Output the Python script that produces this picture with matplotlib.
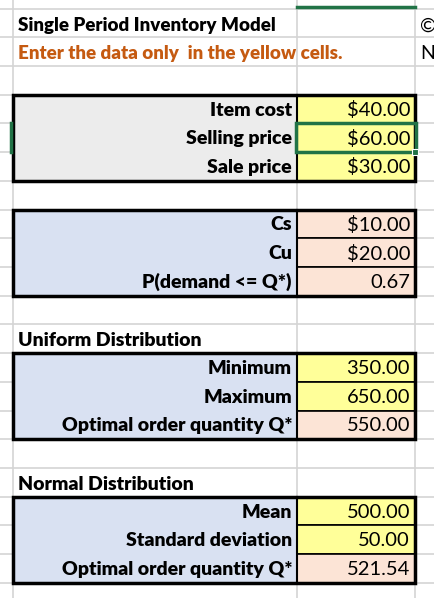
import matplotlib.pyplot as plt
from matplotlib.patches import Rectangle

plt.rcParams['font.family'] = ['Lato', 'DejaVu Sans']

title = "Single Period Inventory Model"
note = "Enter the data only  in the yellow cells."

cost_labels = ["Item cost", "Selling price", "Sale price"]
cost_values = ["$40.00", "$60.00", "$30.00"]
cost_kinds = ["in", "in", "in"]

marg_labels = ["Cs", "Cu", "P(demand <= Q*)"]
marg_values = ["$10.00", "$20.00", "0.67"]
marg_kinds = ["out", "out", "out"]

unif_title = "Uniform Distribution"
unif_labels = ["Minimum", "Maximum", "Optimal order quantity Q*"]
unif_values = ["350.00", "650.00", "550.00"]
unif_kinds = ["in", "in", "out"]

norm_title = "Normal Distribution"
norm_labels = ["Mean", "Standard deviation", "Optimal order quantity Q*"]
norm_values = ["500.00", "50.00", "521.54"]
norm_kinds = ["in", "in", "out"]

W, H = 434, 598
fig = plt.figure(figsize=(W / 100, H / 100), dpi=100)
ax = fig.add_axes([0, 0, 1, 1])
ax.set_xlim(0, W)
ax.set_ylim(H, 0)
ax.axis('off')

rh = 28.72
top0 = 8.5
def rt(i):
    return top0 + i * rh

XL, XM, XR = 13, 297, 415
grid = '#d4d4d4'
fill = {"in": '#ffff99', "out": '#fce4d6'}

# gridlines
for i in range(-1, 21):
    ax.plot([0, W], [rt(i), rt(i)], color=grid, lw=1.2, zorder=1)
for x in [XL, XM, XR]:
    ax.plot([x, x], [0, H], color=grid, lw=1.2, zorder=1)

fs = 14
ax.text(XL + 5, rt(0) + rh / 2 + 3, title, fontsize=fs - 0.5, fontweight='heavy', va='center', zorder=5)
ax.text(XL + 5, rt(1) + rh / 2 + 2, note, fontsize=fs - 0.5, fontweight='heavy', color='#c55a11', va='center', zorder=5)
ax.text(XR + 5, rt(0) + rh / 2 + 3, "©", fontsize=fs, va='center', zorder=5)
ax.text(XR + 5, rt(1) + rh / 2 + 2, "N", fontsize=fs, va='center', zorder=5)

def block(r0, labels, values, kinds, bg, head=None):
    if head:
        ax.text(XL + 5, rt(r0 - 1) + rh / 2 + 2, head, fontsize=fs, fontweight='heavy', va='center', zorder=5)
    n = len(labels)
    ax.add_patch(Rectangle((XL, rt(r0)), XM - XL, n * rh, facecolor=bg, edgecolor='none', zorder=2))
    for j, (lab, val, k) in enumerate(zip(labels, values, kinds)):
        y = rt(r0 + j)
        ax.add_patch(Rectangle((XM, y), XR - XM, rh, facecolor=fill[k], edgecolor='black', lw=1.2, zorder=3))
        ax.text(XM - 5, y + rh / 2 + 1, lab, fontsize=fs, fontweight='heavy', ha='right', va='center', zorder=5)
        ax.text(XR - 5, y + rh / 2 + 1, val, fontsize=fs + 0.5, ha='right', va='center', zorder=5)
    ax.add_patch(Rectangle((XL, rt(r0)), XR - XL, n * rh, facecolor='none', edgecolor='black', lw=2.5, zorder=4))
    ax.plot([XM, XM], [rt(r0), rt(r0 + n)], color='black', lw=1.5, zorder=4)

block(3, cost_labels, cost_values, cost_kinds, '#ececec')
block(7, marg_labels, marg_values, marg_kinds, '#d9e1f2')
block(12, unif_labels, unif_values, unif_kinds, '#d9e1f2', unif_title)
block(17, norm_labels, norm_values, norm_kinds, '#d9e1f2', norm_title)

# selected cell
green = '#217346'
ax.add_patch(Rectangle((XM - 1, rt(4)), XR - XM + 2, rh, facecolor='none', edgecolor=green, lw=2.5, zorder=6))
ax.add_patch(Rectangle((XR - 3, rt(5) - 3), 6, 6, facecolor=green, edgecolor='white', lw=0.8, zorder=7))
ax.plot([XM, XR], [7, 7], color=green, lw=2.5, zorder=6)
ax.plot([11, 11], [rt(4), rt(5)], color=green, lw=2.5, zorder=6)

fig.savefig('out.png', dpi=100)
